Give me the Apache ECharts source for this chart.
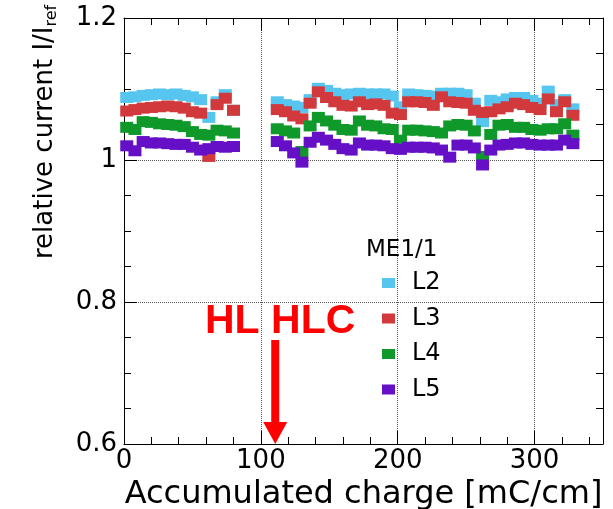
<!DOCTYPE html>
<html>
<head>
<meta charset="utf-8">
<script src="https://cdn.jsdelivr.net/npm/echarts@6/dist/echarts.min.js"></script>
<style>html,body{margin:0;padding:0;background:#fff}#c{width:613px;height:509px}</style>
</head>
<body>
<div id="c"></div>
<script>
// Accumulated charge [mC/cm]
const charge = [2,8,14,20,26,32,38,44,50,56,62,68,74,80,
  112,118,124,130,136,142,148,154,160,166,172,178,184,190,196,202,208,214,220,226,232,238,244,250,256,262,268,274,280,286,292,298,304,310,316,322,328];
// relative current per layer
const L2 = [1.088,1.089,1.091,1.092,1.093,1.092,1.093,1.091,1.089,1.085,1.060,1.082,1.092,1.070,
  1.082,1.078,1.076,1.074,1.085,1.101,1.098,1.094,1.092,1.093,1.094,1.093,1.093,1.093,1.090,1.075,1.093,1.092,1.091,1.090,1.094,1.094,1.094,1.092,1.080,1.054,1.084,1.082,1.086,1.088,1.088,1.084,1.080,1.097,1.078,1.085,1.072];
const L3 = [1.069,1.071,1.073,1.074,1.075,1.076,1.075,1.073,1.068,1.066,1.005,1.078,1.087,1.070,
  1.071,1.068,1.062,1.058,1.080,1.096,1.088,1.082,1.077,1.076,1.082,1.078,1.079,1.077,1.066,1.064,1.082,1.082,1.081,1.077,1.089,1.082,1.081,1.080,1.070,1.067,1.068,1.072,1.075,1.080,1.078,1.074,1.071,1.086,1.068,1.082,1.063];
const L4 = [1.046,1.043,1.054,1.053,1.051,1.050,1.049,1.047,1.040,1.036,1.035,1.042,1.041,1.038,
  1.044,1.041,1.038,1.012,1.048,1.060,1.055,1.049,1.043,1.042,1.055,1.049,1.048,1.044,1.043,1.028,1.042,1.042,1.041,1.040,1.038,1.048,1.050,1.049,1.041,1.005,1.036,1.049,1.050,1.046,1.046,1.043,1.042,1.044,1.044,1.051,1.035];
const L5 = [1.020,1.013,1.026,1.024,1.024,1.023,1.022,1.022,1.018,1.014,1.016,1.019,1.018,1.019,
  1.026,1.020,1.010,0.997,1.025,1.032,1.028,1.022,1.016,1.014,1.024,1.021,1.021,1.020,1.016,1.015,1.018,1.018,1.018,1.017,1.014,1.004,1.021,1.021,1.017,0.993,1.014,1.021,1.022,1.024,1.024,1.022,1.021,1.021,1.021,1.028,1.023];
const seriesNames = ['L2','L3','L4','L5'];
const seriesColors = ['#56c5f0','#d2393c','#0f992b','#6510c6'];
const xTicks = [0,100,200,300];
const yTicks = [0.6,0.8,1,1.2];
const hlText = 'HL HLC';
const hlChargePos = 110.5;

const FONT = 'DejaVu Sans';
const chart = echarts.init(document.getElementById('c'), null, {renderer:'canvas'});

function mainX(pos, withLabel){
  return {gridIndex:0, type:'value', position:pos, min:0, max:350, interval:100,
    axisLine:{show:true, onZero:false, lineStyle:{color:'#000', width:1}},
    axisTick:{show:true, inside:true, length:13, lineStyle:{color:'#000'}},
    axisLabel:{show:withLabel, fontSize:26, fontFamily:FONT, color:'#000', margin:4, showMaxLabel:false,
      formatter: v => xTicks.indexOf(v) >= 0 ? String(v) : ''},
    splitLine:{show:withLabel, lineStyle:{type:'dotted', color:'#555', width:1}},
    name: withLabel ? 'Accumulated charge [mC/cm]' : '', nameLocation:'middle', nameGap:28,
    nameTextStyle:{fontSize:32, fontFamily:FONT, color:'#000'}};
}
function minorX(pos){
  return {gridIndex:1, type:'value', position:pos, min:0, max:350, interval:20,
    axisLine:{show:false, onZero:false}, axisTick:{show:true, inside:true, length:7, lineStyle:{color:'#000'}},
    axisLabel:{show:false}, splitLine:{show:false}};
}
function mainY(pos, withLabel){
  return {gridIndex:0, type:'value', position:pos, min:0.6, max:1.2, interval:0.2,
    axisLine:{show:true, onZero:false, lineStyle:{color:'#000', width:1}},
    axisTick:{show:true, inside:true, length:13, lineStyle:{color:'#000'}},
    axisLabel:{show:withLabel, fontSize:26, fontFamily:FONT, color:'#000', margin:7,
      formatter: v => { const r = Math.round(v*10)/10; return yTicks.indexOf(r) >= 0 ? String(r) : ''; }},
    splitLine:{show:withLabel, lineStyle:{type:'dotted', color:'#555', width:1}}};
}
function minorY(pos){
  return {gridIndex:1, type:'value', position:pos, min:0.6, max:1.2, interval:0.05,
    axisLine:{show:false, onZero:false}, axisTick:{show:true, inside:true, length:7, lineStyle:{color:'#000'}},
    axisLabel:{show:false}, splitLine:{show:false}};
}

const series = [L2,L3,L4,L5].map((vals, k) => ({
  name: seriesNames[k], type:'scatter', xAxisIndex:0, yAxisIndex:0,
  symbol:'rect', symbolSize:[13,11],
  itemStyle:{color:seriesColors[k], opacity:1},
  emphasis:{disabled:true},
  data: charge.map((x,i) => [x, vals[i]])
}));

const gridBox = {left:124, right:10, top:18, bottom:65, containLabel:false, outerBoundsMode:'none'};
chart.setOption({
  animation:false,
  backgroundColor:'#fff',
  grid:[Object.assign({}, gridBox), Object.assign({}, gridBox)],
  xAxis:[mainX('bottom', true), mainX('top', false), minorX('bottom'), minorX('top')],
  yAxis:[mainY('left', true), mainY('right', false), minorY('left'), minorY('right')],
  title:{text:'ME1/1', left:366, top:239, padding:0,
    textStyle:{fontSize:23, fontFamily:FONT, fontWeight:'normal', color:'#000'}},
  legend:{orient:'vertical', left:382, top:271, padding:0, itemWidth:13, itemHeight:10, itemGap:11.5,
    icon:'rect', data:seriesNames,
    textStyle:{fontSize:24, lineHeight:24, fontFamily:FONT, color:'#000', padding:[0,0,0,12]}},
  series: series
});

const ax = chart.convertToPixel({xAxisIndex:0}, hlChargePos);
const yBase = chart.convertToPixel({yAxisIndex:0}, 0.6);
chart.setOption({
  graphic:[
    {type:'text', x:60, y:259, rotation:Math.PI/2, z:10,
      style:{text:'{a|relative current I/I}{b|ref}', align:'left', verticalAlign:'bottom', fill:'#000',
        rich:{a:{fontSize:26, fontFamily:FONT, fill:'#000'}, b:{fontSize:16, fontFamily:FONT, fill:'#000', padding:[14,0,0,0]}}}},
    {type:'text', x:205, y:322, z:10,
      style:{text:hlText, fill:'#ff0000', font:'bold 41px "Liberation Sans", Arial, sans-serif', align:'left', verticalAlign:'middle'}},
    {type:'rect', z:10, shape:{x:ax-4, y:340, width:8, height:yBase-340-21}, style:{fill:'#ff0000'}},
    {type:'polygon', z:10, shape:{points:[[ax-12, yBase-22],[ax+12, yBase-22],[ax, yBase]]}, style:{fill:'#ff0000'}}
  ]
});
</script>
</body>
</html>
